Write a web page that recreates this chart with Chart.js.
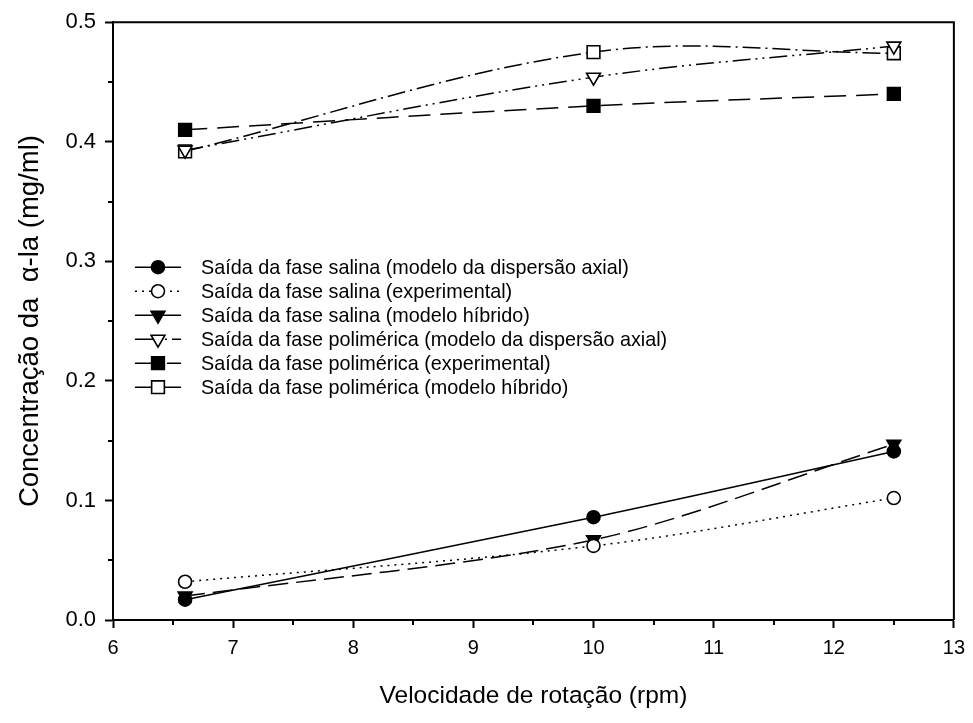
<!DOCTYPE html>
<html>
<head>
<meta charset="utf-8">
<title>Concentração da α-la</title>
<script src="https://cdn.jsdelivr.net/npm/chart.js@4.4.1/dist/chart.umd.min.js"></script>
<style>
  body { margin: 0; background: #fff; }
  canvas { display: block; }
</style>
</head>
<body>
<canvas id="chart" width="973" height="723"></canvas>
<script>
// rotation speed (rpm)
const rpm = [6.6, 10, 12.5];

// α-la concentration (mg/ml) at each outlet
const salinaDispersao = [0.017, 0.086, 0.141];
const salinaExperimental = [0.032, 0.062, 0.102];
const salinaHibrido = [0.020, 0.067, 0.147];
const polimericaDispersao = [0.393, 0.454, 0.480];
const polimericaExperimental = [0.410, 0.430, 0.440];
const polimericaHibrido = [0.392, 0.475, 0.474];

const seriesLabels = [
  'Saída da fase salina (modelo da dispersão axial)',
  'Saída da fase salina (experimental)',
  'Saída da fase salina (modelo híbrido)',
  'Saída da fase polimérica (modelo da dispersão axial)',
  'Saída da fase polimérica (experimental)',
  'Saída da fase polimérica (modelo híbrido)'
];

// labelled ticks; the half steps in between get short unlabelled ticks
const xMajor = [6, 7, 8, 9, 10, 11, 12, 13];
const yMajor = [0, 0.1, 0.2, 0.3, 0.4, 0.5];

const FONT = '"Liberation Sans", Arial, sans-serif';
Chart.defaults.font.family = FONT;
Chart.defaults.color = '#000';

const isMajor = (list, v) => list.some(m => Math.abs(m - v) < 1e-6);
const toPoints = ys => rpm.map((x, i) => ({ x: x, y: ys[i] }));

function series(label, ys, pointStyle, filled, dash, radius, rotation, tension) {
  return {
    label: label,
    data: toPoints(ys),
    borderColor: '#000',
    borderWidth: 1.5,
    borderDash: dash,
    tension: tension,
    fill: false,
    pointStyle: pointStyle,
    pointRotation: rotation || 0,
    pointRadius: radius,
    pointHoverRadius: radius,
    pointBorderColor: '#000',
    pointBorderWidth: 1.6,
    pointBackgroundColor: filled ? '#000' : '#fff'
  };
}

// legend drawn inside the plot: line sample, marker, text
const insideLegend = {
  id: 'insideLegend',
  afterDatasetsDraw(chart) {
    const { ctx, chartArea } = chart;
    const x0 = chartArea.left + 22;
    const x1 = chartArea.left + 68;
    const xm = (x0 + x1) / 2;
    ctx.save();
    ctx.font = '19.8px ' + FONT;
    ctx.textBaseline = 'middle';
    chart.data.datasets.forEach((ds, i) => {
      const y = chartArea.top + 245 + i * 24;
      ctx.strokeStyle = '#000';
      ctx.lineWidth = ds.borderWidth;
      ctx.setLineDash(ds.borderDash);
      ctx.beginPath();
      ctx.moveTo(x0, y);
      ctx.lineTo(x1, y);
      ctx.stroke();
      ctx.setLineDash([]);
      ctx.fillStyle = ds.pointBackgroundColor;
      ctx.lineWidth = ds.pointBorderWidth;
      Chart.helpers.drawPoint(ctx, {
        pointStyle: ds.pointStyle,
        rotation: ds.pointRotation,
        radius: ds.pointRadius,
        borderWidth: ds.pointBorderWidth
      }, xm, y);
      ctx.fillStyle = '#000';
      ctx.fillText(ds.label, chartArea.left + 88, y + 1);
    });
    ctx.restore();
  }
};

// closed frame plus the short minor ticks
const frame = {
  id: 'frame',
  afterDraw(chart) {
    const { ctx, chartArea: a, scales } = chart;
    ctx.save();
    ctx.strokeStyle = '#000';
    ctx.lineWidth = 2;
    ctx.beginPath();
    ctx.moveTo(a.left, a.top);
    ctx.lineTo(a.right, a.top);
    ctx.lineTo(a.right, a.bottom);
    ctx.stroke();
    ctx.beginPath();
    scales.x.ticks.forEach(t => {
      if (isMajor(xMajor, t.value)) return;
      const px = Math.round(scales.x.getPixelForValue(t.value));
      ctx.moveTo(px, a.bottom);
      ctx.lineTo(px, a.bottom + 5);
    });
    scales.y.ticks.forEach(t => {
      if (isMajor(yMajor, t.value)) return;
      const py = Math.round(scales.y.getPixelForValue(t.value));
      ctx.moveTo(a.left, py);
      ctx.lineTo(a.left - 5, py);
    });
    ctx.stroke();
    ctx.restore();
  }
};

const axisGrid = list => ({
  drawOnChartArea: false,
  drawTicks: true,
  tickLength: 8,
  tickWidth: 2,
  tickColor: c => (c.tick && isMajor(list, c.tick.value)) ? '#000' : 'rgba(0,0,0,0)'
});

new Chart(document.getElementById('chart'), {
  type: 'line',
  data: {
    datasets: [
      series(seriesLabels[0], salinaDispersao, 'circle', true, [], 6.5, 0, 0.35),
      series(seriesLabels[1], salinaExperimental, 'circle', false, [2, 5], 6.5, 0, 0.35),
      series(seriesLabels[2], salinaHibrido, 'triangle', true, [20, 8], 8, 180, 0.3),
      series(seriesLabels[3], polimericaDispersao, 'triangle', false, [18, 5, 2, 5, 2, 5], 8, 180, 0.35),
      series(seriesLabels[4], polimericaExperimental, 'rect', true, [22, 10], 9, 0, 0.35),
      series(seriesLabels[5], polimericaHibrido, 'rect', false, [18, 5, 2, 5], 9, 0, 0.35)
    ]
  },
  options: {
    responsive: false,
    animation: false,
    devicePixelRatio: 1,
    layout: { padding: { top: 16, right: 17, left: 0, bottom: 0 } },
    plugins: {
      legend: { display: false },
      tooltip: { enabled: false }
    },
    scales: {
      x: {
        type: 'linear',
        min: 6,
        max: 13,
        afterFit: s => { s.height = 103; },
        ticks: {
          stepSize: 0.5,
          autoSkip: false,
          maxRotation: 0,
          padding: 8,
          font: { size: 20 },
          callback: v => isMajor(xMajor, v) ? String(v) : ''
        },
        grid: axisGrid(xMajor),
        border: { display: true, color: '#000', width: 2 },
        title: {
          display: true,
          text: 'Velocidade de rotação (rpm)',
          font: { size: 24.5 },
          padding: { top: 0, bottom: 12 }
        }
      },
      y: {
        type: 'linear',
        min: 0,
        max: 0.5,
        afterFit: s => { s.width = 113; },
        ticks: {
          stepSize: 0.05,
          autoSkip: false,
          padding: 9,
          font: { size: 22 },
          callback: v => isMajor(yMajor, v) ? v.toFixed(1) : ''
        },
        grid: axisGrid(yMajor),
        border: { display: true, color: '#000', width: 2 },
        title: {
          display: true,
          text: 'Concentração da  α-la (mg/ml)',
          font: { size: 27.5 },
          padding: { top: 14, bottom: 0 }
        }
      }
    }
  },
  plugins: [insideLegend, frame]
});
</script>
</body>
</html>
